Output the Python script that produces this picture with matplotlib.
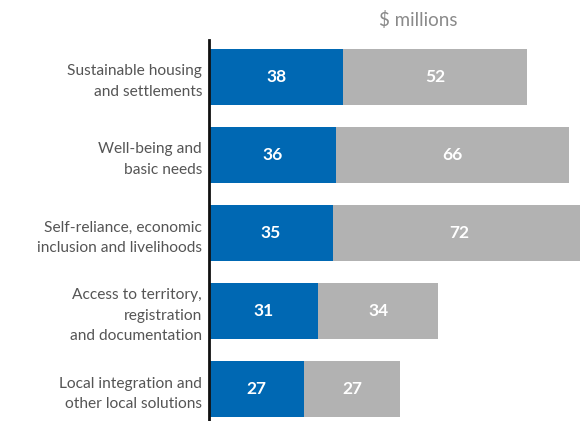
import matplotlib.pyplot as plt

categories = [
    "Sustainable housing\nand settlements",
    "Well-being and\nbasic needs",
    "Self-reliance, economic\ninclusion and livelihoods",
    "Access to territory,\nregistration\nand documentation",
    "Local integration and\nother local solutions",
]
blue_vals = [38, 36, 35, 31, 27]
gray_vals = [52, 66, 72, 34, 27]

BLUE = "#0068b3"
GRAY = "#b2b2b2"
TXT = "#555555"

plt.rcParams["font.family"] = ["Lato", "DejaVu Sans"]

fig = plt.figure(figsize=(5.8, 4.21), dpi=100)
ax = fig.add_axes([209 / 580, 0, 1 - 209 / 580, 381 / 421])

ys = list(range(len(categories)))
ax.barh(ys, blue_vals, height=0.72, color=BLUE)
ax.barh(ys, gray_vals, left=blue_vals, height=0.72, color=GRAY)

for y, b, g in zip(ys, blue_vals, gray_vals):
    ax.text(b / 2, y, str(b), ha="center", va="center", color="white",
            fontsize=12.5, fontweight="bold")
    ax.text(b + g / 2, y, str(g), ha="center", va="center", color="white",
            fontsize=12.5, fontweight="bold")

ax.set_xlim(0, 105.1)
ax.set_ylim(4.41, -0.474)
ax.set_yticks(ys)
ax.set_yticklabels(categories, fontsize=11.2, color=TXT, linespacing=1.6)
ax.tick_params(axis="y", length=0, pad=5)
ax.set_xticks([])
for s in ["top", "right", "bottom"]:
    ax.spines[s].set_visible(False)
ax.spines["left"].set_linewidth(2)
ax.spines["left"].set_color("#111111")

fig.text(418 / 580, 1 - 20 / 421, "$ millions", ha="center", va="center",
         fontsize=13.5, color="#8a8a8a")

fig.savefig("out.png", dpi=100)
